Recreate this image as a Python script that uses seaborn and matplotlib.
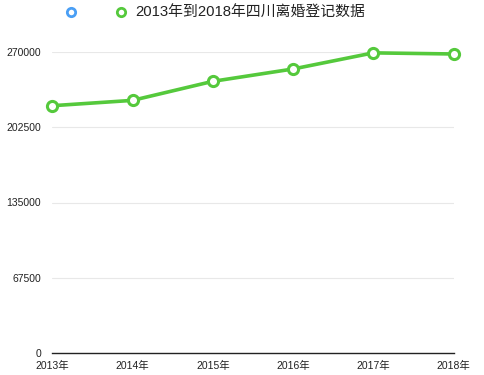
import matplotlib
matplotlib.use("Agg")
import matplotlib.pyplot as plt
from matplotlib.lines import Line2D
import seaborn as sns
import pandas as pd

# data
years = ["2013年", "2014年", "2015年", "2016年", "2017年", "2018年"]
divorces = [222000, 226800, 243900, 255000, 269500, 268500]
y_ticks = [0, 67500, 135000, 202500, 270000]
series_name = "2013年到2018年四川离婚登记数据"

green = "#55c93c"
blue = "#4a9ff5"

sns.set_theme(style="white")
plt.rcParams['font.family'] = ['Liberation Sans', 'Noto Sans CJK SC', 'DejaVu Sans']

df = pd.DataFrame({"pos": range(len(years)), "value": divorces})

fig = plt.figure(figsize=(4.84, 3.75), dpi=100)
ax = fig.add_axes([0.108, 0.0595, 0.829, 0.801])

sns.lineplot(data=df, x="pos", y="value", ax=ax, color=green, linewidth=2.6,
             marker="o", markersize=7.3, markerfacecolor="white",
             markeredgecolor=green, markeredgewidth=2.2, clip_on=False, zorder=3)

ax.set_xlim(0, len(years) - 1)
ax.set_ylim(0, 270000)
ax.set_xticks(range(len(years)))
ax.set_xticklabels(years)
ax.set_yticks(y_ticks)
ax.set_yticklabels([str(v) for v in y_ticks])
ax.set_xlabel("")
ax.set_ylabel("")

ax.grid(axis="y", color="#e8e8e8", linewidth=0.8)
ax.grid(axis="x", visible=False)
for s in ["top", "right", "left"]:
    ax.spines[s].set_visible(False)
ax.spines["bottom"].set_color("#222222")
ax.spines["bottom"].set_linewidth(1.0)

ax.tick_params(axis="y", length=0, pad=8, labelsize=7.5, labelcolor="#222222")
ax.tick_params(axis="x", length=0, pad=6, labelsize=7.5, labelcolor="#222222")

handles = [
    Line2D([], [], color=blue, linestyle="none", marker="o", markersize=6,
           markerfacecolor="white", markeredgecolor=blue, markeredgewidth=2),
    Line2D([], [], color=green, linestyle="none", marker="o", markersize=6,
           markerfacecolor="white", markeredgecolor=green, markeredgewidth=2),
]
leg = fig.legend(handles, ["", series_name], loc="center left",
                 bbox_to_anchor=(0.119, 0.966), ncol=2, frameon=False,
                 fontsize=10.7, handlelength=1.0, handletextpad=0.45,
                 columnspacing=1.92, borderaxespad=0)
for t in leg.get_texts():
    t.set_color("#222222")

fig.savefig("out.png", dpi=100)
